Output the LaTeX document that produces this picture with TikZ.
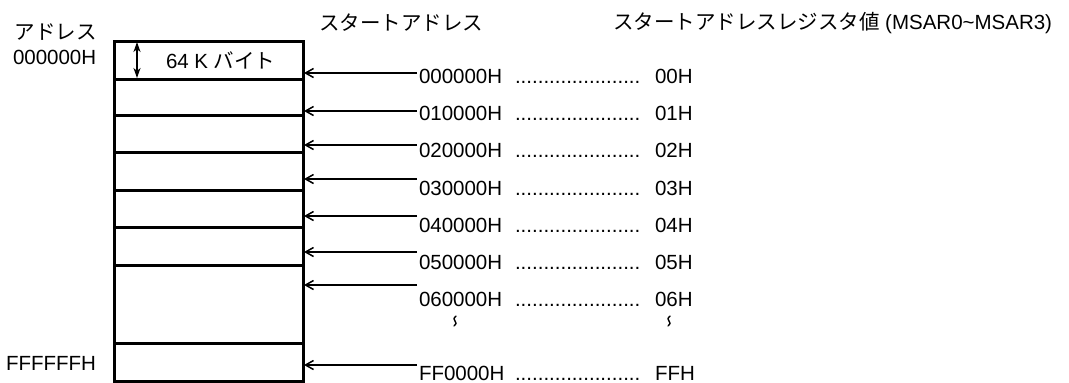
\documentclass[tikz,border=0pt]{standalone}
\usepackage{fontspec}
\setmainfont{Liberation Sans}
\newfontfamily\jp{Noto Sans CJK JP}
\usetikzlibrary{arrows.meta}
\tikzset{
  lbl/.style={inner sep=0pt, outer sep=0pt, font=\fontsize{20.5}{25}\selectfont},
  jlbl/.style={inner sep=0pt, outer sep=0pt, font=\fontsize{20.5}{25}\selectfont\jp},
  memline/.style={line width=3pt, draw=black},
  ptr/.style={line width=1.5pt, -{Straight Barb[length=8pt,width=9pt,line width=1.5pt]}},
  span/.style={line width=1.4pt, {Stealth[length=10pt,width=7pt,inset=3pt]}-{Stealth[length=10pt,width=7pt,inset=3pt]}},
  squig/.style={line width=1.4pt, line cap=round}
}
\begin{document}
\begin{tikzpicture}[x=1pt,y=-1pt]
\useasboundingbox (0,0) rectangle (1069,383);
% memory map box
\draw[memline] (114,41) rectangle (303,381);
\foreach \yy in {79,115,152,190,227,265,343}
  \draw[memline] (114,\yy) -- (303,\yy);
% 64K span
\coordinate (sp1) at (137,42);
\coordinate (sp2) at (137,78);
\draw[span] (sp1) -- (sp2);
\node[lbl, anchor=west] (kb) at (166,60) {64 K {\jp バイト}};
% left labels
\node[jlbl, anchor=west] (addr) at (15,32) {アドレス};
\node[lbl, anchor=base west] (a0) at (13,64) {000000H};
\node[lbl, anchor=base west] (aF) at (6,370) {FFFFFFH};
% headers
\node[jlbl, anchor=west] (hs) at (319,23) {スタートアドレス};
\node[lbl, anchor=west] (hr) at (613,23) {{\jp スタートアドレスレジスタ値} (MSAR0\textasciitilde MSAR3)};
% rows
\foreach \n/\addr/\reg/\base/\ay in {
  0/000000H/00H/83/73,
  1/010000H/01H/120/111,
  2/020000H/02H/157/145,
  3/030000H/03H/195/179,
  4/040000H/04H/232/216,
  5/050000H/05H/269/252,
  6/060000H/06H/306/285,
  7/FF0000H/FFH/380/365}{
  \node[lbl, anchor=base west] (s\n) at (419,\base) {\addr};
  \node[lbl, anchor=base west] (d\n) at (515,\base) {......................};
  \node[lbl, anchor=base west] (r\n) at (655,\base) {\reg};
  \coordinate (st\n) at (417,\ay);
  \coordinate (en\n) at (304,\ay);
  \draw[ptr] (st\n) -- (en\n);
}
% continuation marks
\foreach \xx in {455,669}
  \draw[squig] (\xx+1,316) .. controls (\xx-1.5,318) and (\xx-1.5,320) .. (\xx,321)
    .. controls (\xx+1.5,322) and (\xx+1.5,324) .. (\xx-1,326);
\end{tikzpicture}
\end{document}
